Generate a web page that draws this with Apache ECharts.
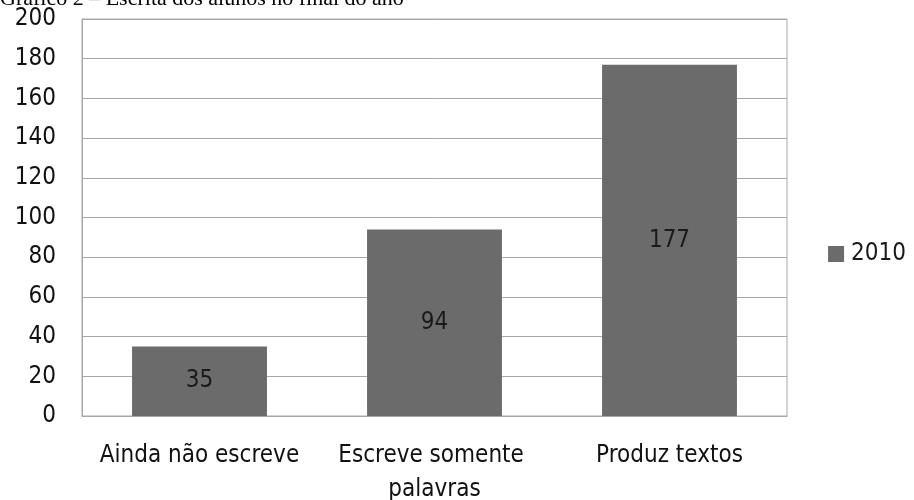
<!DOCTYPE html>
<html>
<head>
<meta charset="utf-8">
<script src="https://cdn.jsdelivr.net/npm/echarts@6/dist/echarts.min.js"></script>
<style>
  html, body { margin: 0; padding: 0; background: #fff; }
  #chart { width: 914px; height: 500px; }
</style>
</head>
<body>
<div id="chart"></div>
<script>
// dados do gráfico
const titulo = 'Gráfico 2 – Escrita dos alunos no final do ano'
const categorias = ['Ainda não escreve', 'Escreve somente palavras', 'Produz textos']
const serieNome = '2010'
const valores = [35, 94, 177]
const eixoY = { min: 0, max: 200, interval: 20 }

const fonte = '"DejaVu Sans Condensed", "DejaVu Sans", sans-serif'
const cinza = '#a8a8a8'

const chart = echarts.init(document.getElementById('chart'))
chart.setOption({
  backgroundColor: '#fff',
  animation: false,
  title: {
    text: titulo,
    left: 0,
    top: -12,
    padding: 0,
    textStyle: { fontFamily: '"Liberation Serif", serif', fontSize: 22, fontWeight: 'normal', color: '#000' }
  },
  legend: {
    data: [serieNome],
    right: 8,
    top: 242,
    padding: 0,
    itemWidth: 16,
    itemHeight: 16,
    itemGap: 5,
    icon: 'rect',
    textStyle: { fontFamily: fonte, fontSize: 24, color: '#1a1a1a', padding: [0, 0, 0, 2] }
  },
  grid: {
    left: 82,
    right: 127,
    top: 19,
    bottom: 84,
    outerBoundsMode: 'none',
    containLabel: false,
    show: true,
    borderColor: cinza,
    borderWidth: 1
  },
  xAxis: {
    type: 'category',
    data: categorias,
    axisLine: { lineStyle: { color: cinza } },
    axisTick: { show: false },
    axisLabel: {
      color: '#111',
      fontFamily: fonte,
      fontSize: 24,
      margin: 23,
      lineHeight: 34,
      width: 215,
      overflow: 'break',
      interval: 0
    }
  },
  yAxis: {
    type: 'value',
    min: eixoY.min,
    max: eixoY.max,
    interval: eixoY.interval,
    axisLine: { show: true, lineStyle: { color: cinza } },
    axisTick: { show: false },
    splitLine: { lineStyle: { color: cinza } },
    axisLabel: { color: '#111', fontFamily: fonte, fontSize: 24, margin: 26 }
  },
  series: [
    {
      name: serieNome,
      type: 'bar',
      data: valores,
      barWidth: '57.4%',
      itemStyle: { color: '#6b6b6b' },
      label: {
        show: true,
        position: 'inside',
        color: '#1a1a1a',
        fontFamily: fonte,
        fontSize: 24
      }
    }
  ]
})
</script>
</body>
</html>
